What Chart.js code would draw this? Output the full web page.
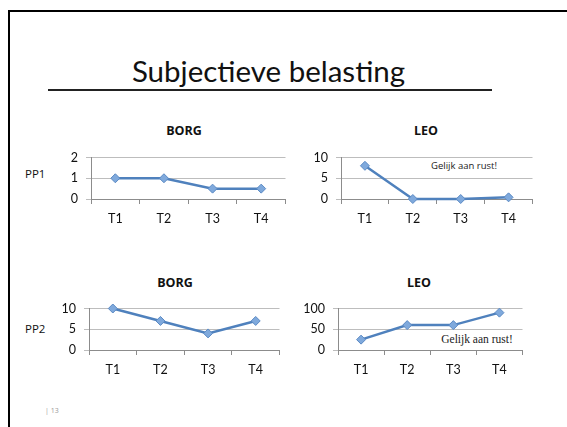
<!DOCTYPE html>
<html>
<head>
<meta charset="utf-8">
<script src="https://cdn.jsdelivr.net/npm/chart.js@4.4.1/dist/chart.umd.min.js"></script>
<style>
  body { margin: 0; background: #fff; width: 567px; height: 427px; overflow: hidden; position: relative; font-family: 'Open Sans', sans-serif; }
  .abs { position: absolute; white-space: nowrap; }
  .box { position: absolute; }
  #frameTop { left: 8px; top: 10px; width: 559px; height: 2px; background: #000; position: absolute; }
  #frameLeft { left: 8px; top: 10px; width: 2px; height: 417px; background: #000; position: absolute; }
  #slideTitle { left: 0; width: 537px; top: 53px; text-align: center; font-family: 'Lato', sans-serif; font-size: 29.5px; color: #111; }
  #rule { left: 48px; top: 89px; width: 444px; height: 2px; background: #222; position: absolute; }
  .ctitle { font-weight: bold; font-size: 12.5px; color: #111; transform: translate(-50%, -50%); }
  .pp { font-size: 11.5px; color: #111; transform: translateY(-50%); }
  .note1 { font-size: 9.5px; color: #222; transform: translate(-50%, -50%); }
  .note2 { font-family: 'Liberation Serif', serif; font-size: 11.5px; color: #222; transform: translate(-50%, -50%); }
  #pageNum { left: 45px; top: 406px; font-size: 7px; color: #999; }
</style>
</head>
<body>
<div id="frameTop"></div>
<div id="frameLeft"></div>
<div id="slideTitle" class="abs">Subjectieve belasting</div>
<div id="rule"></div>

<div class="abs ctitle" style="left:184px; top:130px;">BORG</div>
<div class="abs ctitle" style="left:426px; top:130px;">LEO</div>
<div class="abs ctitle" style="left:175px; top:282px;">BORG</div>
<div class="abs ctitle" style="left:419px; top:282px;">LEO</div>

<div class="abs pp" style="left:25px; top:173px;">PP1</div>
<div class="abs pp" style="left:25px; top:328px;">PP2</div>

<div class="abs note1" style="left:464px; top:165px;">Gelijk aan rust!</div>
<div class="abs note2" style="left:477px; top:339px;">Gelijk aan rust!</div>

<div id="pageNum" class="abs">| 13</div>

<div class="box" style="left:50px; top:142px; width:241px; height:87px;"><canvas id="chart-borg-pp1"></canvas></div>
<div class="box" style="left:300px; top:142px; width:238px; height:87px;"><canvas id="chart-leo-pp1"></canvas></div>
<div class="box" style="left:48px; top:293px; width:237px; height:87px;"><canvas id="chart-borg-pp2"></canvas></div>
<div class="box" style="left:297px; top:293px; width:231px; height:87px;"><canvas id="chart-leo-pp2"></canvas></div>

<script>
const cats = ['T1', 'T2', 'T3', 'T4'];

const borgPP1 = [1, 1, 0.5, 0.5];
const leoPP1 = [8, 0, 0, 0.4];
const borgPP2 = [10, 7, 4, 7];
const leoPP2 = [25, 60, 60, 90];

const borgPP1Ticks = [0, 1, 2];
const leoPP1Ticks = [0, 5, 10];
const borgPP2Ticks = [0, 5, 10];
const leoPP2Ticks = [0, 50, 100];

function lineChart(id, values, yTicks) {
    const el = document.getElementById(id);
    return new Chart(el.getContext('2d'), {
        type: 'line',
        data: {
            labels: cats,
            datasets: [{
                data: values,
                borderColor: '#4f81bd',
                borderWidth: 2.5,
                pointStyle: 'rectRot',
                pointRadius: 4.5,
                pointBackgroundColor: '#7fa9dc',
                pointBorderColor: '#5b8ac4',
                pointBorderWidth: 1,
                tension: 0,
                clip: false
            }]
        },
        options: {
            responsive: true,
            maintainAspectRatio: false,
            animation: false,
            devicePixelRatio: 1,
            layout: { padding: { top: 10, left: 0, right: 0, bottom: 0 } },
            plugins: { legend: { display: false }, tooltip: { enabled: false }, title: { display: false } },
            scales: {
                x: {
                    offset: true,
                    grid: { offset: true, drawOnChartArea: false, drawTicks: true, tickLength: 5, color: '#8c8c8c' },
                    border: { color: '#8c8c8c' },
                    ticks: { padding: 7, color: '#111', font: { family: 'Lato', size: 12.5 } },
                    afterFit: function(s) { s.height = 30; }
                },
                y: {
                    min: yTicks[0],
                    max: yTicks[yTicks.length - 1],
                    afterBuildTicks: function(s) { s.ticks = yTicks.map(function(v) { return { value: v }; }); },
                    grid: { color: '#bdbdbd', tickLength: 5, drawTicks: true },
                    border: { color: '#8c8c8c' },
                    ticks: { padding: 8, color: '#111', font: { family: 'Lato', size: 12.5 } },
                    afterFit: function(s) { s.width = 41; }
                }
            }
        }
    });
}

lineChart('chart-borg-pp1', borgPP1, borgPP1Ticks);
lineChart('chart-leo-pp1', leoPP1, leoPP1Ticks);
lineChart('chart-borg-pp2', borgPP2, borgPP2Ticks);
lineChart('chart-leo-pp2', leoPP2, leoPP2Ticks);
</script>
</body>
</html>
